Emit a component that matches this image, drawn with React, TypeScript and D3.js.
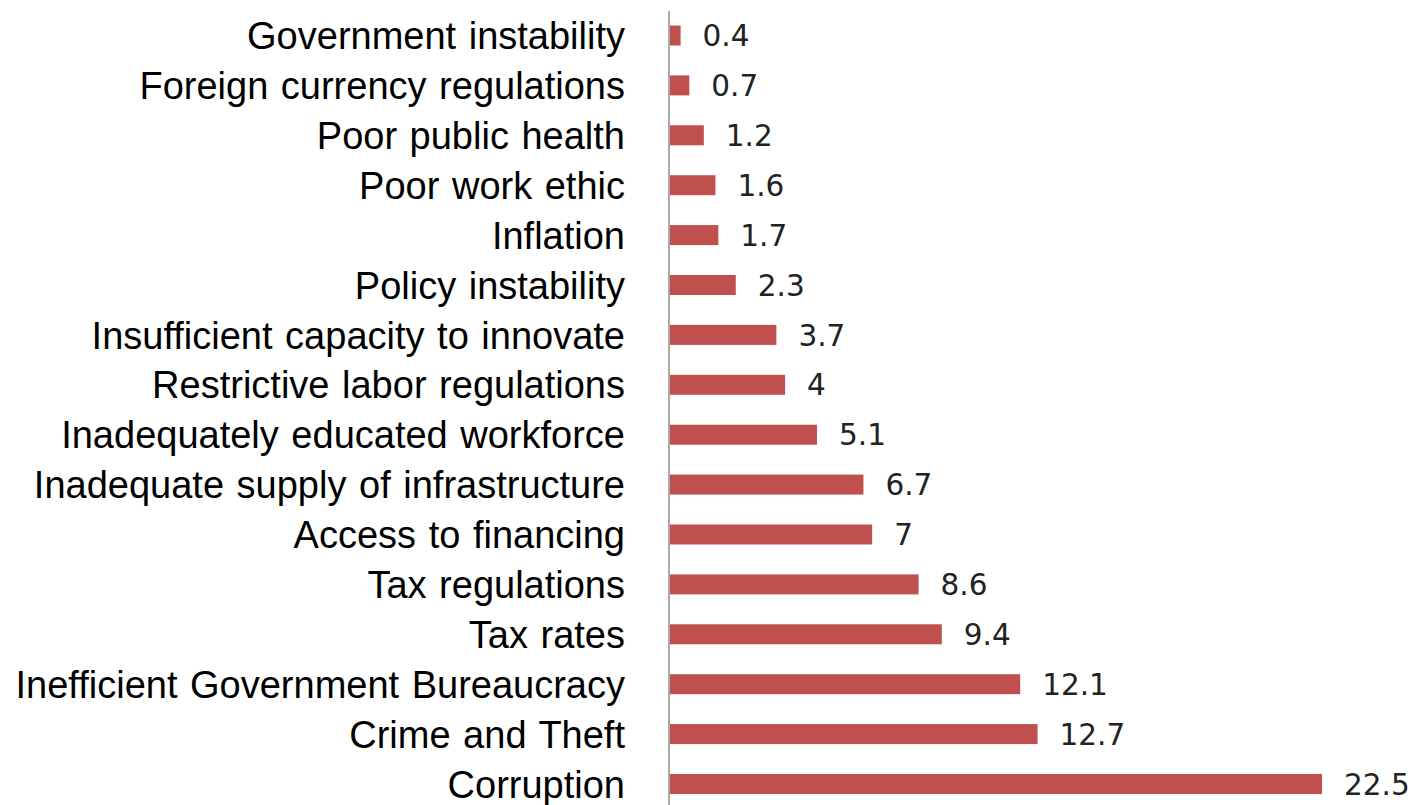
import React from "react";
import * as d3 from "d3";

const categories = [
  "Government instability",
  "Foreign currency regulations",
  "Poor public health",
  "Poor work ethic",
  "Inflation",
  "Policy instability",
  "Insufficient capacity to innovate",
  "Restrictive labor regulations",
  "Inadequately educated workforce",
  "Inadequate supply of infrastructure",
  "Access to financing",
  "Tax regulations",
  "Tax rates",
  "Inefficient Government Bureaucracy",
  "Crime and Theft",
  "Corruption",
];

const values = [0.4, 0.7, 1.2, 1.6, 1.7, 2.3, 3.7, 4, 5.1, 6.7, 7, 8.6, 9.4, 12.1, 12.7, 22.5];

const W = 1414;
const H = 805;
const AXIS_X = 669;

export default function App() {
  const x = d3.scaleLinear().domain([0, 22.5]).range([AXIS_X, 1322]);
  const y = d3.scalePoint<string>().domain(categories).range([10.55, 808.95]).padding(0.5);
  const barH = 20;

  return (
    <div style={{ position: "absolute", left: 0, top: 0, background: "#fff" }}>
      <svg width={W} height={H} style={{ display: "block" }}>
        <rect x={0} y={0} width={W} height={H} fill="#fff" />
        {categories.map((c, i) => {
          const cy = y(c) as number;
          const v = values[i];
          return (
            <g key={c}>
              <rect
                x={x(0) + 1}
                y={cy - barH / 2}
                width={x(v) - x(0) - 1}
                height={barH}
                fill="#c0504d"
              />
              <text
                x={625}
                y={cy}
                dy="0.36em"
                textAnchor="end"
                fontFamily="'Liberation Sans', Arial, sans-serif"
                fontSize={38}
                wordSpacing={2}
                fill="#000"
              >
                {c}
              </text>
              <text
                x={x(v) + 22}
                y={cy}
                dy="0.36em"
                fontFamily="'DejaVu Sans', sans-serif"
                fontSize={29.5}
                fill="#222"
              >
                {String(v)}
              </text>
            </g>
          );
        })}
        <line x1={AXIS_X} x2={AXIS_X} y1={11} y2={H} stroke="#8c8c8c" strokeWidth={1.5} />
      </svg>
    </div>
  );
}
